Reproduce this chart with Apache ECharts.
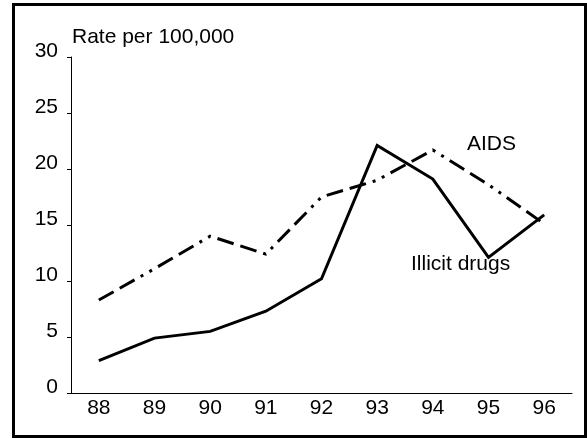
<!DOCTYPE html>
<html>
<head>
<meta charset="utf-8">
<script src="https://cdn.jsdelivr.net/npm/echarts@6/dist/echarts.min.js"></script>
<style>
html,body{margin:0;padding:0;background:#fff;}
#chart{width:587px;height:438px;}
</style>
</head>
<body>
<div id="chart"></div>
<script>
var years = ['88','89','90','91','92','93','94','95','96'];
var illicitDrugs = [2.9, 4.9, 5.5, 7.3, 10.2, 22.1, 19.1, 12.1, 15.9];
var aids = [8.3, 11.1, 14.0, 12.4, 17.5, 19.0, 21.7, 18.6, 15.1];
var yTicks = [0, 5, 10, 15, 20, 25, 30];

var FONT = '"Liberation Sans", Arial, sans-serif';
var chart = echarts.init(document.getElementById('chart'), null, {renderer: 'canvas'});
chart.setOption({
  animation: false,
  backgroundColor: '#fff',
  grid: {left: 71, right: 15, top: 57, bottom: 45, containLabel: false},
  xAxis: {
    type: 'category',
    data: years,
    boundaryGap: true,
    axisLine: {lineStyle: {color: '#000', width: 1}},
    axisTick: {alignWithLabel: true, length: 4, lineStyle: {color: '#000'}},
    axisLabel: {color: '#000', fontFamily: FONT, fontSize: 21, margin: 5}
  },
  yAxis: {
    type: 'value',
    min: yTicks[0],
    max: yTicks[yTicks.length - 1],
    interval: 5,
    splitLine: {show: false},
    axisLine: {show: true, lineStyle: {color: '#000', width: 1}},
    axisTick: {show: true, length: 4, lineStyle: {color: '#000'}},
    axisLabel: {color: '#000', fontFamily: FONT, fontSize: 21, margin: 13, verticalAlign: 'bottom', lineHeight: 11}
  },
  series: [
    {
      name: 'Illicit drugs',
      type: 'line',
      data: illicitDrugs,
      symbol: 'none',
      lineStyle: {color: '#000', width: 3, cap: 'butt', join: 'miter'}
    },
    {
      name: 'AIDS',
      type: 'line',
      data: aids,
      symbol: 'none',
      lineStyle: {color: '#000', width: 3, type: [17, 7, 17, 7, 3, 7, 3, 7], cap: 'butt', join: 'miter'}
    }
  ],
  graphic: [
    {type: 'rect', shape: {x: 13.5, y: 4.5, width: 572, height: 432}, style: {fill: 'none', stroke: '#000', lineWidth: 3}, silent: true},
    {type: 'text', left: 72, top: 27, style: {text: 'Rate per 100,000', fill: '#000', font: '21px ' + FONT}},
    {type: 'text', left: 467, top: 134, style: {text: 'AIDS', fill: '#000', font: '21px ' + FONT}},
    {type: 'text', left: 411, top: 254, style: {text: 'Illicit drugs', fill: '#000', font: '21px ' + FONT}}
  ]
});
</script>
</body>
</html>
